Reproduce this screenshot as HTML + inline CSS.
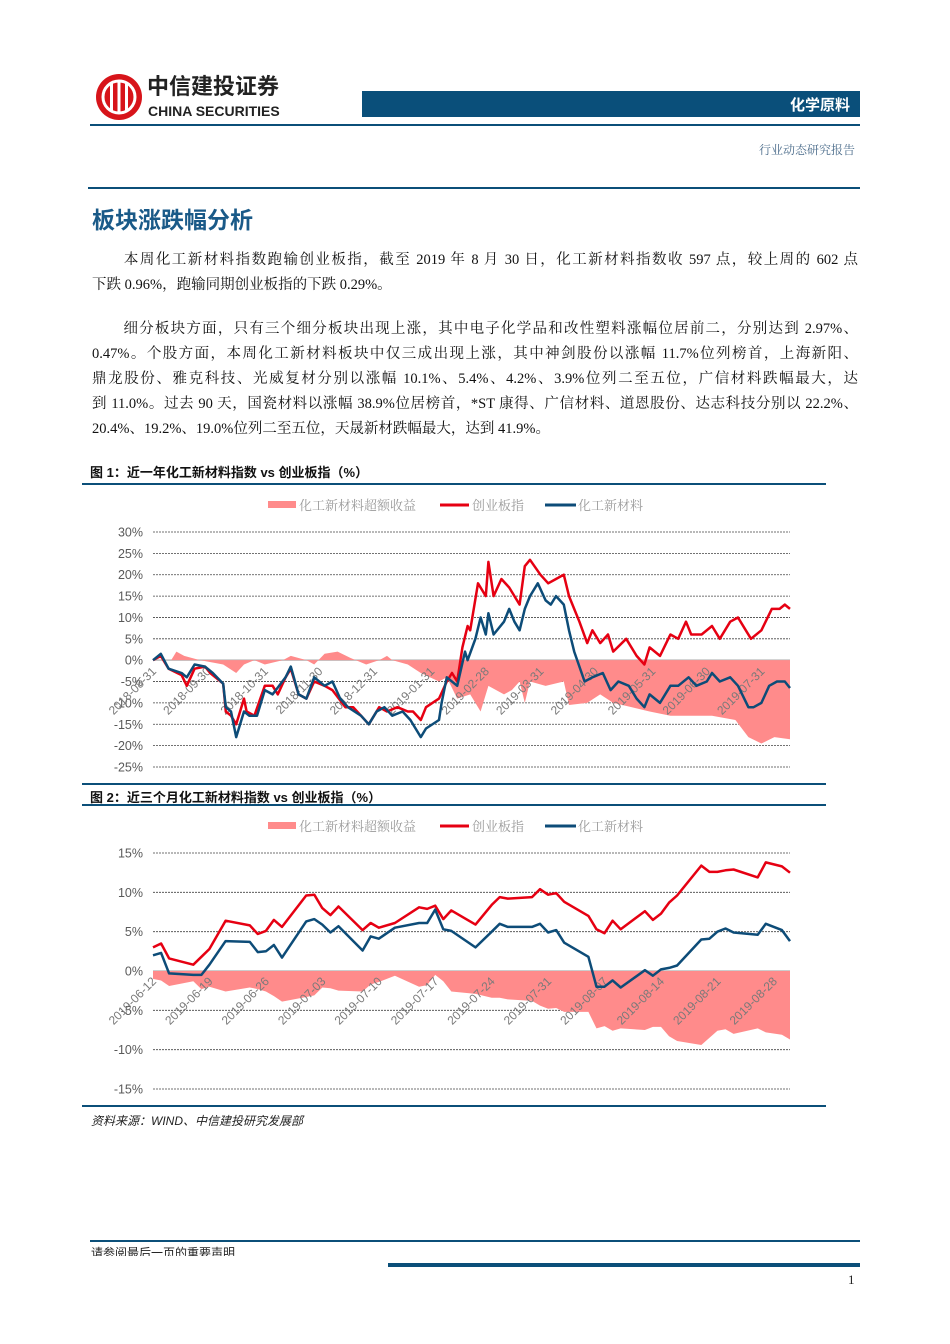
<!DOCTYPE html>
<html><head><meta charset="utf-8"><style>
body{margin:0;width:950px;height:1344px;position:relative;background:#fff;overflow:hidden;font-family:"Liberation Sans","Noto Sans CJK SC",sans-serif}
.abs{position:absolute}
.p{position:absolute;left:92px;width:766px;font-family:"Liberation Serif","Noto Serif CJK SC",serif;font-size:14.5px;color:#111;white-space:nowrap;line-height:20px}
.j{text-align:justify;text-align-last:justify;white-space:normal}
.hl{position:absolute;background:#0b4f79}
</style></head><body>
<div class="abs" style="left:94px;top:72px;width:50px;height:50px">
<svg width="50" height="50"><circle cx="25" cy="25" r="23" fill="#d7141a"/><circle cx="25" cy="25" r="16" fill="none" stroke="#fff" stroke-width="3"/><rect x="16" y="11" width="3" height="28" fill="#fff"/><rect x="23.5" y="9" width="3" height="32" fill="#fff"/><rect x="31" y="11" width="3" height="28" fill="#fff"/></svg></div>
<div class="abs" style="left:147px;top:75px;font-size:22px;line-height:24px;font-weight:bold;color:#222">中信建投证券</div>
<div class="abs" style="left:148px;top:103px;font-size:14px;line-height:16px;font-weight:bold;color:#222">CHINA SECURITIES</div>
<div class="abs" style="left:362px;top:91px;width:498px;height:26px;background:#0a4f7a"></div>
<div class="abs" style="left:760px;top:94px;width:90px;text-align:right;color:#fff;font-weight:bold;font-size:15px">化学原料</div>
<div class="hl" style="left:90px;top:124px;width:770px;height:2px"></div>
<div class="abs" style="left:700px;top:141px;width:155px;text-align:right;color:#4a6b8a;font-size:12px;font-family:'Liberation Serif','Noto Serif CJK SC',serif">行业动态研究报告</div>
<div class="hl" style="left:88px;top:187px;width:772px;height:2px"></div>
<div class="abs" style="left:92px;top:201px;font-size:23px;font-weight:bold;color:#1a5a88">板块涨跌幅分析</div>

<div class="p j" style="top:250px">&#12288;&#12288;本周化工新材料指数跑输创业板指，截至 2019 年 8 月 30 日，化工新材料指数收 597 点，较上周的 602 点</div>
<div class="p" style="top:275px">下跌 0.96%，跑输同期创业板指的下跌 0.29%。</div>
<div class="p j" style="top:319px">&#12288;&#12288;细分板块方面，只有三个细分板块出现上涨，其中电子化学品和改性塑料涨幅位居前二，分别达到 2.97%、</div>
<div class="p j" style="top:344px">0.47%。个股方面，本周化工新材料板块中仅三成出现上涨，其中神剑股份以涨幅 11.7%位列榜首，上海新阳、</div>
<div class="p j" style="top:369px">鼎龙股份、雅克科技、光威复材分别以涨幅 10.1%、5.4%、4.2%、3.9%位列二至五位，广信材料跌幅最大，达</div>
<div class="p j" style="top:394px">到 11.0%。过去 90 天，国瓷材料以涨幅 38.9%位居榜首，*ST 康得、广信材料、道恩股份、达志科技分别以 22.2%、</div>
<div class="p" style="top:419px">20.4%、19.2%、19.0%位列二至五位，天晟新材跌幅最大，达到 41.9%。</div>

<div class="abs" style="left:90px;top:462px;font-size:13px;font-weight:bold;color:#111">图 1：近一年化工新材料指数 vs 创业板指（%）</div>
<div class="hl" style="left:82px;top:483px;width:744px;height:2px"></div>
<div class="hl" style="left:82px;top:783px;width:744px;height:2px"></div>
<div class="abs" style="left:90px;top:787px;font-size:13px;font-weight:bold;color:#111">图 2：近三个月化工新材料指数 vs 创业板指（%）</div>
<div class="hl" style="left:82px;top:804px;width:744px;height:2px"></div>
<div class="hl" style="left:82px;top:1105px;width:744px;height:2px"></div>
<div class="abs" style="left:91px;top:1112px;font-size:12px;font-style:italic;color:#222">资料来源：WIND、中信建投研究发展部</div>

<div class="hl" style="left:90px;top:1240px;width:770px;height:1.5px"></div>
<div class="abs" style="left:91px;top:1245px;height:11px;overflow:hidden;font-size:12px;color:#222;line-height:16px">请参阅最后一页的重要声明</div>
<div class="hl" style="left:388px;top:1263px;width:472px;height:4px"></div>
<div class="abs" style="left:848px;top:1272px;font-size:13px;color:#222;font-family:'Liberation Serif',serif">1</div>

<svg id="svg" class="abs" style="left:0;top:0" width="950" height="1344"></svg>
<script>
// ---- Chart 1 data (trading-day index, %) ----
const c1RedDays=[0,3,6,11,13,16,20,22,27,28,30,32,35,36,39,43,46,48,51,53,56,59,62,66,69,74,77,80,83,87,90,94,98,100,103,105,110,113,115,117,119,121,122,125,128,129,131,134,137,141,143,145,149,152,155,158,160,164,167,169,172,175,177,182,186,189,191,195,199,202,205,207,211,215,218,222,225,228,230,234,238,241,243,245];
const c1Red=[0,1,-2,-3.5,-6,-2,-1.5,-3,-5.5,-12,-13,-15,-9,-12,-13,-6,-6,-8,-4,-2,-8,-9,-5,-6,-7,-11,-11,-13,-15,-11,-12,-11,-12,-12,-14,-11,-9,-5,-3,-5,3,8,7,18,15,23,15,19,17,13,22,23.5,20,18,19,20,15,9,4,7,4,6,2,5,1,-1,3,1,6,5,9,6,6,8,5,9,10,7,5,7,12,12,13,12];
const c1BlueDays=[0,3,6,11,13,16,20,23,27,28,30,32,35,37,40,43,46,51,53,56,59,62,66,69,72,75,80,83,86,89,92,96,99,103,105,110,111,113,117,120,121,124,126,128,129,131,135,137,139,141,143,145,148,151,153,155,158,160,162,166,169,173,176,179,183,186,189,191,195,199,202,206,209,213,215,218,222,225,229,231,234,237,240,243,245];
const c1Blue=[0,1.5,-2,-3,-4,-1,-1.5,-3,-5.5,-11,-12,-18,-12,-13,-13,-7,-8,-4,-1.5,-8,-9,-4,-6,-5,-9,-11,-13,-15,-12,-11,-13,-12,-14,-18,-16,-14,-10,-4,-6,2,0,5,10,6,11,6,9,12,9,7,12,15,18,14,13,15,13,7,2,-5,-4,-3,-7,-5,-6,-9,-11,-8,-10,-6,-6,-4,-6,-5,-3,-5,-4,-6,-11,-11,-10,-6,-5,-5,-6.5];
const c1ExDays=[0,7,9,12,18,27,32,35,39,43,50,53,59,62,66,71,76,82,87,90,92,98,103,110,113,117,122,126,129,135,138,141,143,145,151,158,160,167,172,177,184,191,199,206,215,224,229,234,239,245];
const c1Excess=[0,0,2,1,0,-1,-3,-1,0,-1,0,1,0,-1,1.5,2,0.5,-1,0,1,0,-1,-3,-5,-4,-9,-8,-12,-6,-8,-7,-5,-10,-5,-6,-5,-10.5,-10,-8,-10,-11,-12,-13,-13,-13,-14,-18,-19.5,-18,-18.5];
const c1Ticks=[30,25,20,15,10,5,0,-5,-10,-15,-20,-25];
const c1Labels=['2018-08-31','2018-09-30','2018-10-31','2018-11-30','2018-12-31','2019-01-31','2019-02-28','2019-03-31','2019-04-30','2019-05-31','2019-06-30','2019-07-31'];
const c1LabelDays=[0,21,43,64,85,107,128,149,170,192,213,234];
// ---- Chart 2 data (calendar-day index, %) ----
const c2Days=[0,1,2,5,6,7,9,12,13,14,15,16,19,20,21,22,23,26,27,28,30,33,34,35,36,37,40,42,43,44,47,48,49,50,51,54,55,56,57,58,61,62,63,64,65,68,69,70,71,72,75,76,78,79];
const c2Red=[3,3.5,1.6,0.8,1.8,2.8,6.4,5.8,4.7,5.1,6.5,5.6,9.6,9.7,8,7.1,8.2,5.2,6.1,5.5,6.1,8.1,7.9,8.3,6.6,7.7,5.9,8.4,9.4,9.2,9.4,10.4,9.7,9.9,8.8,7,5.3,4.8,6.4,5.3,7.6,6.5,7.3,8.7,9.6,13.4,12.6,12.6,12.8,12.9,11.9,13.8,13.3,12.5];
const c2Blue=[2,2.3,-0.3,-0.5,-0.5,0.8,3.8,3.7,2.4,2.5,3.3,1.7,6.3,6.6,5.9,4.9,5.7,2.6,4.4,4.1,5.5,6.1,6.1,7.8,5.3,5.1,3.0,5.0,6.0,5.6,5.6,6.0,4.9,5.2,3.6,1.8,-2.0,-2.0,-1.2,-2.1,0.1,-0.6,0.2,0.4,0.7,4.0,4.1,5.0,5.4,4.9,4.6,6.0,5.2,3.8];
const c2Excess=[-1,-1.2,-1.9,-1.3,-2.3,-2,-2.6,-2.1,-2.3,-2.6,-3.2,-3.9,-3.3,-3.1,-2.1,-2.2,-2.5,-2.6,-1.7,-1.4,-0.6,-2,-1.8,-0.5,-1.3,-2.6,-2.9,-3.4,-3.4,-3.6,-3.8,-4.4,-4.8,-4.7,-5.2,-5.2,-7.3,-7,-7.6,-7.3,-7.5,-7.1,-7.1,-8.3,-8.9,-9.4,-8.5,-7.6,-7.4,-8,-7.3,-7.8,-8.1,-8.7];
const c2Ticks=[15,10,5,0,-5,-10,-15];
const c2Labels=['2019-06-12','2019-06-19','2019-06-26','2019-07-03','2019-07-10','2019-07-17','2019-07-24','2019-07-31','2019-08-07','2019-08-14','2019-08-21','2019-08-28'];
const c2LabelDays=[0,7,14,21,28,35,42,49,56,63,70,77];

const NS='http://www.w3.org/2000/svg';
const svg=document.getElementById('svg');
function mk(tag,attrs,parent){const e=document.createElementNS(NS,tag);for(const k in attrs)e.setAttribute(k,attrs[k]);(parent||svg).appendChild(e);return e;}

function chart(cfg){
  const g=mk('g',{});
  
  
  const x=d=>cfg.x0+(d-cfg.dmin)/(cfg.dmax-cfg.dmin)*(cfg.x1-cfg.x0);
  const y=v=>cfg.yTop+(cfg.vmax-v)/(cfg.vmax-cfg.vmin)*(cfg.yBot-cfg.yTop);
  const ly=cfg.legendY;
  const lr=mk('rect',{x:268,y:ly-4,width:28,height:7,fill:'#ff8b8b'},g);
  
  
  const lt1=mk('text',{x:299,y:ly+5,'font-size':13,fill:'#9a9a9a','font-family':'Liberation Serif,Noto Serif CJK SC,serif'},g);lt1.textContent='化工新材料超额收益';
  
  
  const ll2=mk('line',{x1:440,x2:469,y1:ly,y2:ly,stroke:'#e60012','stroke-width':3},g);
  
  
  const lt2=mk('text',{x:472,y:ly+5,'font-size':13,fill:'#9a9a9a','font-family':'Liberation Serif,Noto Serif CJK SC,serif'},g);lt2.textContent='创业板指';
  
  
  const ll3=mk('line',{x1:545,x2:576,y1:ly,y2:ly,stroke:'#0d4c78','stroke-width':3},g);
  
  
  const lt3=mk('text',{x:578,y:ly+5,'font-size':13,fill:'#9a9a9a','font-family':'Liberation Serif,Noto Serif CJK SC,serif'},g);lt3.textContent='化工新材料';
  
  
  cfg.ticks.forEach(t=>{
    const gl=mk('line',{x1:cfg.x0,x2:cfg.x1,y1:y(t),y2:y(t),stroke:t===0?'#bbb':'#444','stroke-width':t===0?1.5:0.8,'stroke-dasharray':t===0?'':'2,1'},g);
    
    
    const tl=mk('text',{x:cfg.x0-10,y:y(t)+4.5,'text-anchor':'end','font-size':12.5,fill:'#595959'},g);
    tl.textContent=t+'%';
    
    
  });
  let dA='M'+x(cfg.exDays[0])+','+y(0);
  cfg.exDays.forEach((d,i)=>{dA+=' L'+x(d)+','+y(cfg.excess[i]);});
  dA+=' L'+x(cfg.exDays[cfg.exDays.length-1])+','+y(0)+' Z';
  const area=mk('path',{d:dA,fill:'#ff8b8b'},g);
  
  
  cfg.labels.forEach((s,i)=>{
    const lx=x(cfg.labelDays[i])+4, lyy=cfg.labelY;
    const t=mk('text',{x:lx,y:lyy,'text-anchor':'end','font-size':12,fill:'#7a7a7a',transform:'rotate(-45 '+lx+' '+lyy+')'},g);
    t.textContent=s;
    
    
  });
  function line(days,vals,color,name){
    const pts=days.map((d,i)=>x(d).toFixed(1)+','+y(vals[i]).toFixed(1)).join(' ');
    const p=mk('polyline',{points:pts,fill:'none',stroke:color,'stroke-width':2.5,'stroke-linejoin':'round'},g);
    
    
  }
  line(cfg.redDays,cfg.red,'#e60012','gem-index-line');
  line(cfg.blueDays,cfg.blue,'#0d4c78','new-materials-line');
}
chart({name:'chart-1-year',x0:153,x1:790,dmin:0,dmax:245,yTop:532,yBot:767,vmax:30,vmin:-25,ticks:c1Ticks,legendY:505,
  exDays:c1ExDays,excess:c1Excess,redDays:c1RedDays,red:c1Red,blueDays:c1BlueDays,blue:c1Blue,labels:c1Labels,labelDays:c1LabelDays,labelY:672});
chart({name:'chart-3-month',x0:153,x1:790,dmin:0,dmax:79,yTop:853,yBot:1089,vmax:15,vmin:-15,ticks:c2Ticks,legendY:826,
  exDays:c2Days,excess:c2Excess,redDays:c2Days,red:c2Red,blueDays:c2Days,blue:c2Blue,labels:c2Labels,labelDays:c2LabelDays,labelY:982});
</script>
</body></html>
